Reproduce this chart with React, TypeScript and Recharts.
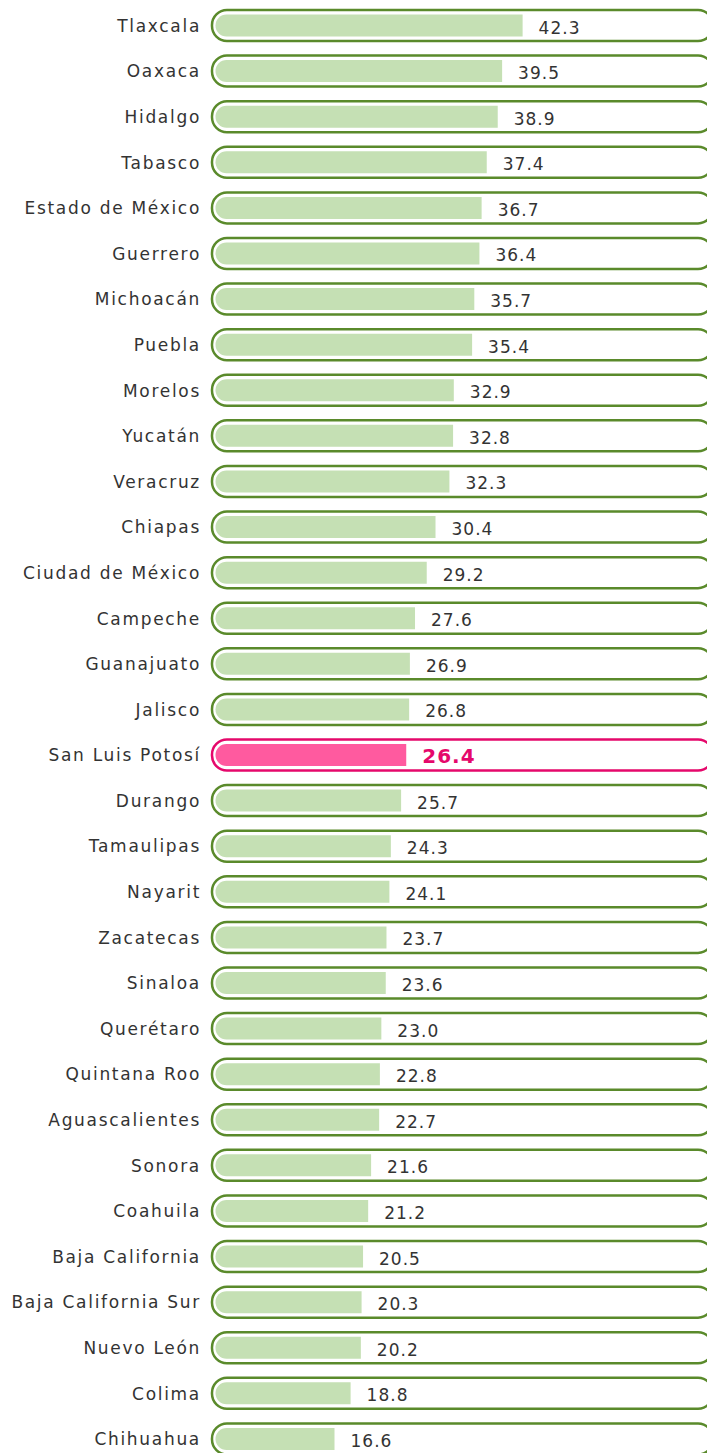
import React from 'react';
import { BarChart, Bar, XAxis, YAxis, LabelList } from 'recharts';

const states = [
  'Tlaxcala', 'Oaxaca', 'Hidalgo', 'Tabasco', 'Estado de México', 'Guerrero',
  'Michoacán', 'Puebla', 'Morelos', 'Yucatán', 'Veracruz', 'Chiapas',
  'Ciudad de México', 'Campeche', 'Guanajuato', 'Jalisco', 'San Luis Potosí',
  'Durango', 'Tamaulipas', 'Nayarit', 'Zacatecas', 'Sinaloa', 'Querétaro',
  'Quintana Roo', 'Aguascalientes', 'Sonora', 'Coahuila', 'Baja California',
  'Baja California Sur', 'Nuevo León', 'Colima', 'Chihuahua'
];

const values = [
  42.3, 39.5, 38.9, 37.4, 36.7, 36.4, 35.7, 35.4, 32.9, 32.8, 32.3, 30.4,
  29.2, 27.6, 26.9, 26.8, 26.4, 25.7, 24.3, 24.1, 23.7, 23.6, 23.0, 22.8,
  22.7, 21.6, 21.2, 20.5, 20.3, 20.2, 18.8, 16.6
];

const highlight = 'San Luis Potosí';

const data = states.map((name, i) => ({ name, value: values[i] }));

const FONT = '"DejaVu Sans", sans-serif';
const GREEN = '#5a8a2b';
const LIGHT = '#c5e0b4';
const PINK = '#e5086b';
const PINK_FILL = '#ff5a9f';

const isHl = (i: number) => states[i] === highlight;

function Capsule(props: any) {
  const { x, y, width, height, index } = props;
  const hl = isHl(index);
  return (
    <rect
      x={x - 1}
      y={y}
      width={width + 4}
      height={height}
      rx={15}
      ry={15}
      fill="#fff"
      stroke={hl ? PINK : GREEN}
      strokeWidth={2.5}
    />
  );
}

function InnerBar(props: any) {
  const { x, y, width, height, index } = props;
  const hl = isHl(index);
  const top = y + 4.5;
  const h = height - 9;
  const left = x + 2.5;
  const right = x + width;
  const r = 11;
  const d = `M${left + r},${top} L${right},${top} L${right},${top + h} L${left + r},${top + h} A${r},${r} 0 0 1 ${left + r},${top} Z`;
  return <path d={d} fill={hl ? PINK_FILL : LIGHT} />;
}

function ValueLabel(props: any) {
  const { x, y, width, height, value, index } = props;
  const hl = isHl(index);
  return (
    <text
      x={x + width + 16}
      y={y + height / 2 + (hl ? 8 : 8)}
      fontFamily={FONT}
      fontSize={hl ? 20 : 17}
      fontWeight={hl ? 'bold' : 'normal'}
      letterSpacing={1}
      fill={hl ? PINK : '#333'}
    >
      {Number(value).toFixed(1)}
    </text>
  );
}

function StateTick(props: any) {
  const { x, y, payload } = props;
  return (
    <text
      x={x}
      y={y}
      dy={6}
      textAnchor="end"
      fontFamily={FONT}
      fontSize={17}
      letterSpacing={1.7}
      fill="#333"
    >
      {payload.value}
    </text>
  );
}

export default function App() {
  return (
    <div style={{ position: 'absolute', left: 0, top: 0, background: '#fff' }}>
      <BarChart
        width={710}
        height={1462}
        data={data}
        layout="vertical"
        margin={{ top: 3, right: 0, bottom: 0, left: 0 }}
      >
        <XAxis type="number" domain={[0, 67.9]} hide allowDataOverflow />
        <YAxis
          type="category"
          dataKey="name"
          width={213}
          axisLine={false}
          tickLine={false}
          tickMargin={6}
          tick={<StateTick />}
          interval={0}
        />
        <Bar
          dataKey="value"
          barSize={31}
          background={<Capsule />}
          shape={<InnerBar />}
          isAnimationActive={false}
        >
          <LabelList dataKey="value" content={<ValueLabel />} />
        </Bar>
      </BarChart>
    </div>
  );
}
